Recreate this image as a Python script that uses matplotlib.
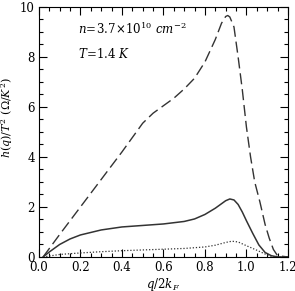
import matplotlib
matplotlib.use('Agg')
import matplotlib.pyplot as plt
from matplotlib.ticker import MultipleLocator

plt.rcParams['font.family'] = 'DejaVu Serif'
plt.rcParams['mathtext.fontset'] = 'dejavuserif'

# curva tracejada
x_dash = [0.02, 0.1, 0.2, 0.3, 0.4, 0.5, 0.55, 0.6, 0.65, 0.7, 0.75, 0.8, 0.85, 0.88,
          0.9, 0.91, 0.92, 0.94, 0.96, 0.98, 1.0, 1.02, 1.04, 1.065, 1.09, 1.11, 1.13,
          1.15, 1.2]
y_dash = [0.0, 0.9, 2.0, 3.1, 4.2, 5.35, 5.75, 6.05, 6.35, 6.72, 7.15, 7.8, 8.7, 9.35,
          9.62, 9.66, 9.6, 9.2, 8.0, 6.7, 5.2, 4.0, 3.0, 2.2, 1.3, 0.75, 0.3,
          0.05, 0.0]

# curva solida
x_solid = [0.02, 0.05, 0.1, 0.15, 0.2, 0.3, 0.4, 0.5, 0.6, 0.7, 0.75, 0.8, 0.85, 0.9,
           0.92, 0.94, 0.96, 0.98, 1.0, 1.03, 1.06, 1.09, 1.12, 1.15, 1.2]
y_solid = [0.0, 0.2, 0.5, 0.72, 0.88, 1.08, 1.2, 1.26, 1.32, 1.42, 1.52, 1.7, 1.95, 2.25,
           2.32, 2.28, 2.1, 1.8, 1.45, 0.95, 0.48, 0.18, 0.05, 0.0, 0.0]

# curva pontilhada
x_dot = [0.02, 0.1, 0.2, 0.3, 0.4, 0.5, 0.6, 0.7, 0.8, 0.85, 0.9, 0.93, 0.96, 1.0,
         1.05, 1.1, 1.13, 1.2]
y_dot = [0.0, 0.1, 0.16, 0.21, 0.25, 0.28, 0.31, 0.34, 0.4, 0.47, 0.58, 0.63, 0.6, 0.45,
         0.27, 0.08, 0.0, 0.0]

fig = plt.figure(figsize=(2.95, 2.91), dpi=100)
ax = fig.add_axes([0.132, 0.117, 0.844, 0.859])

ax.plot(x_dash, y_dash, color='#333333', lw=1.0, dashes=(8, 3.5))
ax.plot(x_solid, y_solid, color='#333333', lw=1.1)
ax.plot(x_dot, y_dot, color='#333333', lw=0.9, linestyle=(0, (1, 1.5)))

ax.set_xlim(0, 1.2)
ax.set_ylim(0, 10)
ax.xaxis.set_major_locator(MultipleLocator(0.2))
ax.xaxis.set_minor_locator(MultipleLocator(0.05))
ax.yaxis.set_major_locator(MultipleLocator(2))
ax.yaxis.set_minor_locator(MultipleLocator(0.5))
ax.set_xticklabels([f'{v:.1f}' for v in ax.get_xticks()])
ax.tick_params(which='both', direction='in', top=True, right=True, labelsize=8.5, width=0.8)
ax.tick_params(which='major', length=6, pad=3)
ax.tick_params(which='minor', length=3)
for s in ax.spines.values():
    s.set_linewidth(0.8)

ax.set_xlabel(r'$q/2k_F$', fontsize=8.5, labelpad=1)
ax.set_ylabel(r'$h(q)/T^2\ (\Omega/K^2)$', fontsize=8)
ax.yaxis.set_label_coords(-0.095, 0.556)

ax.text(0.19, 9.1, r'$n\!=\!3.7\!\times\!10^{10}\ cm^{-2}$', fontsize=8.5, va='center')
ax.text(0.19, 8.1, r'$T\!=\!1.4\ K$', fontsize=8.5, va='center')

fig.savefig('out.png', dpi=100)
